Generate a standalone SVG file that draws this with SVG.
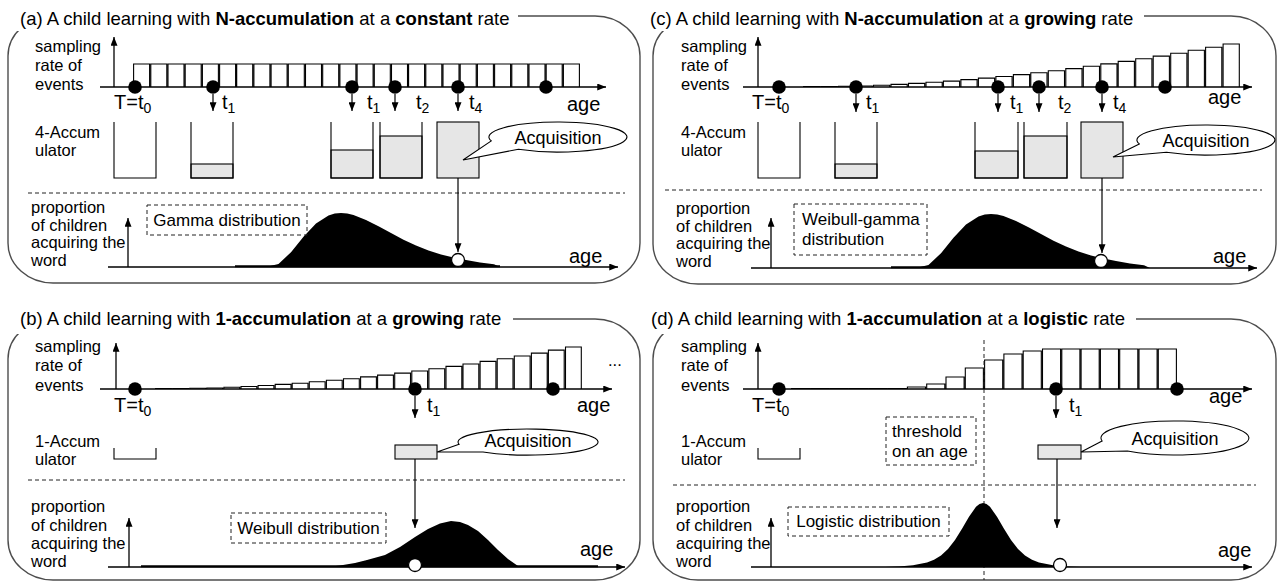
<svg xmlns="http://www.w3.org/2000/svg" width="1278" height="583" viewBox="0 0 1278 583">
<defs>
<style>
text{font-family:"Liberation Sans",Arial,sans-serif;fill:#000}
.ti{font-size:18.5px}
.lb{font-size:16.5px}
.bx{font-size:17px}
.bg{font-size:20px}
.ac{font-size:18px}
.fr{fill:none;stroke:#4d4d4d;stroke-width:1.4}
.wo{fill:#fff}
.axa{fill:none;stroke:#000;stroke-width:1.3;marker-end:url(#ah)}
.bar{fill:#fff;stroke:#000;stroke-width:1.1}
.acc{fill:none;stroke:#000;stroke-width:1.1}
.gr{fill:#e6e6e6;stroke:#000;stroke-width:1.1}
.ds{fill:none;stroke:#222;stroke-width:1;stroke-dasharray:4 3}
.dt{fill:#000}
.wd{fill:#fff;stroke:#000;stroke-width:1.3}
.di{fill:#000}
.base{fill:none;stroke:#000;stroke-width:2}
.cl{fill:#fff;stroke:#000;stroke-width:1.1}
.ar{fill:none;stroke:#000;stroke-width:1.2;marker-end:url(#ah)}
</style>
<marker id="ah" viewBox="0 0 10 8" refX="10" refY="4" markerWidth="9" markerHeight="7" markerUnits="userSpaceOnUse" orient="auto"><path d="M0,0L10,4L0,8z" fill="#000"/></marker>
<path id="gamma" d="M266 267L278.5 264L291 252.2L303.5 236.8L316 223.5L328.5 215.4L334.75 213.6L341 213L347.25 213.5L353.5 215L366 219.9L378.5 226.3L391 233.1L403.5 239.7L416 245.5L428.5 250.4L441 254.4L453.5 257.6L466 260.1L480 262.5L494 264.2L500 267Z"/>
</defs>

<!-- Panel (a) -->
<g id="panel-a">
<rect class="fr" x="8" y="16" width="632" height="267" rx="45" ry="40"/>
<rect class="wo" x="0" y="4" width="518" height="27"/>
<text class="ti" x="20" y="25">(a) A child learning with <tspan font-weight="bold">N-accumulation</tspan> at a <tspan font-weight="bold">constant</tspan> rate</text>
<g id="a-rate">
<text class="lb" x="35" y="52">sampling</text>
<text class="lb" x="35" y="71">rate of</text>
<text class="lb" x="35" y="90">events</text>
<path class="bar" d="M133.6 87V64h16V87M150.8 87V64h16V87M168 87V64h16V87M185.2 87V64h16V87M202.4 87V64h16V87M219.6 87V64h16V87M236.7 87V64h16V87M253.9 87V64h16V87M271.1 87V64h16V87M288.3 87V64h16V87M305.5 87V64h16V87M322.7 87V64h16V87M339.9 87V64h16V87M357.1 87V64h16V87M374.3 87V64h16V87M391.5 87V64h16V87M408.6 87V64h16V87M425.8 87V64h16V87M443 87V64h16V87M460.2 87V64h16V87M477.4 87V64h16V87M494.6 87V64h16V87M511.8 87V64h16V87M529 87V64h16V87M546.2 87V64h16V87M563.4 87V64h16V87"/>
<path class="axa" d="M114 87V37"/>
<path class="axa" d="M100 87H606"/>
<circle class="dt" cx="135" cy="87" r="6.8"/>
<circle class="dt" cx="213" cy="87" r="6.8"/>
<circle class="dt" cx="352" cy="87" r="6.8"/>
<circle class="dt" cx="395" cy="87" r="6.8"/>
<circle class="dt" cx="458" cy="87" r="6.8"/>
<circle class="dt" cx="546" cy="87" r="6.8"/>
<text class="bg" x="114" y="109">T=t<tspan dy="4" font-size="14">0</tspan></text>
<text class="bg" x="222" y="109">t<tspan dy="4" font-size="14">1</tspan></text>
<text class="bg" x="367" y="109">t<tspan dy="4" font-size="14">1</tspan></text>
<text class="bg" x="416" y="109">t<tspan dy="4" font-size="14">2</tspan></text>
<text class="bg" x="469" y="109">t<tspan dy="4" font-size="14">4</tspan></text>
<text class="bg" x="567" y="111">age</text>
</g>
<g id="a-accumulator">
<text class="lb" x="35" y="138">4-Accum</text>
<text class="lb" x="35" y="156">ulator</text>
<path class="acc" d="M114 122V178H156V122"/>
<rect class="gr" x="191" y="164" width="42" height="14"/>
<path class="acc" d="M191 122V178H233V122"/>
<rect class="gr" x="331" y="150" width="42" height="28"/>
<path class="acc" d="M331 122V178H373V122"/>
<rect class="gr" x="380" y="136" width="42" height="42"/>
<path class="acc" d="M380 122V178H422V122"/>
<rect class="gr" x="437" y="122" width="42" height="56"/>
</g>
<g id="a-acquisition">
<path class="cl" d="M491.3 140.9L463 160L518.4 149.3A69 15 0 1 0 491.3 140.9Z"/>
<text class="ac" x="558" y="143.5" text-anchor="middle">Acquisition</text>
</g>
<path class="ds" d="M28 193H625"/>
<g id="a-distribution">
<text class="lb" x="31" y="213">proportion</text>
<text class="lb" x="31" y="231">of children</text>
<text class="lb" x="31" y="248">acquiring the</text>
<text class="lb" x="31" y="266">word</text>
<use href="#gamma" class="di"/>
<path class="base" d="M235 266.2H500"/>
<path class="axa" d="M128 267V218"/>
<path class="axa" d="M108 267H618"/>
<rect class="ds" x="147" y="205" width="160" height="30"/>
<text class="bx" x="227" y="226" text-anchor="middle">Gamma distribution</text>
<circle class="wd" cx="458" cy="260" r="6.5"/>
<text class="bg" x="569" y="263">age</text>
</g>
</g>

<!-- Panel (b) -->
<g id="panel-b">
<rect class="fr" x="8" y="319" width="632" height="261" rx="45" ry="40"/>
<rect class="wo" x="0" y="306" width="513" height="28"/>
<text class="ti" x="20" y="325">(b) A child learning with <tspan font-weight="bold">1-accumulation</tspan> at a <tspan font-weight="bold">growing</tspan> rate</text>
<g id="b-rate">
<text class="lb" x="35" y="352">sampling</text>
<text class="lb" x="35" y="371">rate of</text>
<text class="lb" x="35" y="391">events</text>
<path class="bar" d="M155.6 389V388.5h15.8V389M172.7 389V388.5h15.8V389M189.8 389V388.3h15.8V389M206.8 389V388h15.8V389M223.9 389V387.3h15.8V389M241 389V386.5h15.8V389M258.1 389V385.5h15.8V389M275.2 389V384.4h15.8V389M292.2 389V383.2h15.8V389M309.3 389V381.8h15.8V389M326.4 389V380.3h15.8V389M343.5 389V378.7h15.8V389M360.6 389V376.9h15.8V389M377.6 389V375.1h15.8V389M394.7 389V373.1h15.8V389M411.8 389V371h15.8V389M428.9 389V368.8h15.8V389M446 389V366.4h15.8V389M463 389V364h15.8V389M480.1 389V361.4h15.8V389M497.2 389V358.8h15.8V389M514.3 389V356h15.8V389M531.4 389V353.1h15.8V389M548.4 389V350.1h15.8V389M565.5 389V347h15.8V389"/>
<path class="axa" d="M116 389V343"/>
<path class="axa" d="M100 389H612"/>
<circle class="dt" cx="135" cy="389" r="6.8"/>
<circle class="dt" cx="415" cy="389" r="6.8"/>
<circle class="dt" cx="553" cy="389" r="6.8"/>
<text class="lb" x="608" y="366">...</text>
<text class="bg" x="114" y="412">T=t<tspan dy="4" font-size="14">0</tspan></text>
<text class="bg" x="427" y="412">t<tspan dy="4" font-size="14">1</tspan></text>
<text class="bg" x="577" y="412">age</text>
</g>
<g id="b-accumulator">
<text class="lb" x="35" y="447">1-Accum</text>
<text class="lb" x="35" y="465">ulator</text>
<path class="acc" d="M114 448V459H156V448"/>
<rect class="gr" x="395" y="445" width="42" height="14"/>
</g>
<g id="b-acquisition">
<path class="cl" d="M459.1 444.3L437 452L483 452A70 13 0 1 0 459.1 444.3Z"/>
<text class="ac" x="528" y="447" text-anchor="middle">Acquisition</text>
</g>
<path class="ds" d="M28 480H625"/>
<g id="b-distribution">
<text class="lb" x="31" y="512">proportion</text>
<text class="lb" x="31" y="531">of children</text>
<text class="lb" x="31" y="549">acquiring the</text>
<text class="lb" x="31" y="567">word</text>
<path class="di" d="M327 567L340 565.5L355 563L367 560L385 555L400 547L415 537L428 529L440 523.5L451 521L460 522L468 525L478 531L488 540L498 550L508 559L518 566L522 567Z"/>
<path class="base" d="M141 566.2H598"/>
<path class="axa" d="M129 567V518"/>
<path class="axa" d="M108 567H625"/>
<rect class="ds" x="231" y="513" width="155" height="30"/>
<text class="bx" x="308.5" y="534" text-anchor="middle">Weibull distribution</text>
<circle class="wd" cx="415" cy="565" r="6.5"/>
<text class="bg" x="580" y="556">age</text>
</g>
</g>

<!-- Panel (c) -->
<g id="panel-c">
<rect class="fr" x="653" y="16" width="623" height="268" rx="45" ry="40"/>
<rect class="wo" x="644" y="4" width="500" height="27"/>
<text class="ti" x="650" y="25">(c) A child learning with <tspan font-weight="bold">N-accumulation</tspan> at a <tspan font-weight="bold">growing</tspan> rate</text>
<g id="c-rate">
<text class="lb" x="681" y="52">sampling</text>
<text class="lb" x="681" y="71">rate of</text>
<text class="lb" x="681" y="90">events</text>
<path class="bar" d="M803.6 87V86.5h16.2V87M821.1 87V86.5h16.2V87M838.6 87V86.3h16.2V87M856 87V86h16.2V87M873.5 87V85.3h16.2V87M891 87V84.4h16.2V87M908.5 87V83.4h16.2V87M926 87V82.3h16.2V87M943.4 87V81.1h16.2V87M960.9 87V79.6h16.2V87M978.4 87V78.1h16.2V87M995.9 87V76.5h16.2V87M1013.4 87V74.6h16.2V87M1030.8 87V72.8h16.2V87M1048.3 87V70.7h16.2V87M1065.8 87V68.6h16.2V87M1083.3 87V66.3h16.2V87M1100.8 87V63.9h16.2V87M1118.2 87V61.4h16.2V87M1135.7 87V58.7h16.2V87M1153.2 87V56.1h16.2V87M1170.7 87V53.2h16.2V87M1188.2 87V50.2h16.2V87M1205.6 87V47.2h16.2V87M1223.1 87V44h16.2V87"/>
<path class="axa" d="M758 87V37"/>
<path class="axa" d="M743 87H1252"/>
<circle class="dt" cx="779" cy="87" r="6.8"/>
<circle class="dt" cx="856" cy="87" r="6.8"/>
<circle class="dt" cx="998" cy="87" r="6.8"/>
<circle class="dt" cx="1039" cy="87" r="6.8"/>
<circle class="dt" cx="1102" cy="87" r="6.8"/>
<circle class="dt" cx="1165" cy="87" r="6.8"/>
<text class="bg" x="752" y="109">T=t<tspan dy="4" font-size="14">0</tspan></text>
<text class="bg" x="866" y="109">t<tspan dy="4" font-size="14">1</tspan></text>
<text class="bg" x="1010" y="109">t<tspan dy="4" font-size="14">1</tspan></text>
<text class="bg" x="1058" y="109">t<tspan dy="4" font-size="14">2</tspan></text>
<text class="bg" x="1113" y="109">t<tspan dy="4" font-size="14">4</tspan></text>
<text class="bg" x="1208" y="104">age</text>
</g>
<g id="c-accumulator">
<text class="lb" x="681" y="138">4-Accum</text>
<text class="lb" x="681" y="156">ulator</text>
<path class="acc" d="M758 122V178H800V122"/>
<rect class="gr" x="835" y="164" width="42" height="14"/>
<path class="acc" d="M835 122V178H877V122"/>
<rect class="gr" x="975" y="151" width="43" height="27"/>
<path class="acc" d="M975 122V178H1018V122"/>
<rect class="gr" x="1024" y="136" width="43" height="42"/>
<path class="acc" d="M1024 122V178H1067V122"/>
<rect class="gr" x="1081" y="122" width="42" height="56"/>
</g>
<g id="c-acquisition">
<path class="cl" d="M1139.3 143.9L1113 157L1166.4 152.3A69 15 0 1 0 1139.3 143.9Z"/>
<text class="ac" x="1206" y="146.5" text-anchor="middle">Acquisition</text>
</g>
<path class="ds" d="M665 190H1262"/>
<g id="c-distribution">
<text class="lb" x="676" y="214">proportion</text>
<text class="lb" x="676" y="232">of children</text>
<text class="lb" x="676" y="249">acquiring the</text>
<text class="lb" x="676" y="267">word</text>
<use href="#gamma" class="di" transform="translate(650,1)"/>
<path class="base" d="M891 267.2H1130"/>
<path class="axa" d="M771 268V218"/>
<path class="axa" d="M751 268H1257"/>
<rect class="ds" x="794" y="204" width="133" height="51"/>
<text class="bx" x="802" y="225">Weibull-gamma</text>
<text class="bx" x="802" y="245">distribution</text>
<circle class="wd" cx="1101" cy="261" r="6.5"/>
<text class="bg" x="1213" y="263">age</text>
</g>
</g>

<!-- Panel (d) -->
<g id="panel-d">
<rect class="fr" x="653" y="319" width="623" height="261" rx="45" ry="40"/>
<rect class="wo" x="644" y="306" width="492" height="28"/>
<text class="ti" x="651" y="325">(d) A child learning with <tspan font-weight="bold">1-accumulation</tspan> at a <tspan font-weight="bold">logistic</tspan> rate</text>
<g id="d-rate">
<text class="lb" x="681" y="352">sampling</text>
<text class="lb" x="681" y="371">rate of</text>
<text class="lb" x="681" y="391">events</text>
<path class="bar" d="M791.6 389V388.5h18.1V389M810.9 389V388.5h18.1V389M830.2 389V388.5h18.1V389M849.5 389V388.5h18.1V389M868.8 389V388.5h18.1V389M888.1 389V388.5h18.1V389M907.4 389V387h18.1V389M926.7 389V384h18.1V389M946 389V377h18.1V389M965.3 389V368h18.1V389M984.6 389V360h18.1V389M1003.9 389V354h18.1V389M1023.2 389V351h18.1V389M1042.5 389V349h18.1V389M1061.8 389V349h18.1V389M1081.1 389V349h18.1V389M1100.4 389V349h18.1V389M1119.7 389V349h18.1V389M1139 389V349h18.1V389M1158.3 389V349h18.1V389"/>
<path class="axa" d="M758 389V343"/>
<path class="axa" d="M743 389H1252"/>
<path class="ds" d="M984 340V580"/>
<circle class="dt" cx="779" cy="389" r="6.8"/>
<circle class="dt" cx="1056" cy="389" r="6.8"/>
<circle class="dt" cx="1177" cy="389" r="6.8"/>
<text class="bg" x="752" y="412">T=t<tspan dy="4" font-size="14">0</tspan></text>
<text class="bg" x="1069" y="412">t<tspan dy="4" font-size="14">1</tspan></text>
<text class="bg" x="1209" y="403">age</text>
</g>
<g id="d-threshold">
<rect class="ds" x="886" y="417" width="90" height="48"/>
<text class="bx" x="892" y="437">threshold</text>
<text class="bx" x="892" y="457">on an age</text>
</g>
<g id="d-accumulator">
<text class="lb" x="681" y="447">1-Accum</text>
<text class="lb" x="681" y="465">ulator</text>
<path class="acc" d="M758 448V459H800V448"/>
<rect class="gr" x="1038" y="445" width="43" height="14"/>
</g>
<g id="d-acquisition">
<path class="cl" d="M1102.1 441L1081 452L1127.4 451A74 17 0 1 0 1102.1 441Z"/>
<text class="ac" x="1175" y="444.5" text-anchor="middle">Acquisition</text>
</g>
<path class="ds" d="M673 485H1256"/>
<g id="d-distribution">
<text class="lb" x="676" y="512">proportion</text>
<text class="lb" x="676" y="531">of children</text>
<text class="lb" x="676" y="549">acquiring the</text>
<text class="lb" x="676" y="567">word</text>
<path class="di" d="M885 567L899 566.4L913 565.3L927 562.5L934 559.7L941 555.4L948 549.1L955 540.1L962 528.8L969 516.7L976 506.8L979.5 504L983 503L986.5 504L990 506.8L997 516.7L1004 528.8L1011 540.1L1018 549.1L1025 555.4L1032 559.7L1039 562.5L1053 565.3L1067 566.4L1081 567Z"/>
<path class="axa" d="M771 567V518"/>
<path class="axa" d="M751 567H1252"/>
<rect class="ds" x="788" y="507" width="161" height="29"/>
<text class="bx" x="868.5" y="527" text-anchor="middle">Logistic distribution</text>
<circle class="wd" cx="1060" cy="565" r="6.5"/>
<text class="bg" x="1218" y="557">age</text>
</g>
</g>

<!-- Connectors -->
<g id="connectors">
<path class="ar" d="M213 94V111"/>
<path class="ar" d="M352 94V111"/>
<path class="ar" d="M395 94V111"/>
<path class="ar" d="M458 94V111"/>
<path class="ar" d="M458 178V252"/>
<path class="ar" d="M415 396V418"/>
<path class="ar" d="M415 459V528"/>
<path class="ar" d="M856 94V112"/>
<path class="ar" d="M998 94V112"/>
<path class="ar" d="M1039 94V112"/>
<path class="ar" d="M1102 94V112"/>
<path class="ar" d="M1102 178V253"/>
<path class="ar" d="M1056 396V418"/>
<path class="ar" d="M1057 459V528"/>
</g>
</svg>
